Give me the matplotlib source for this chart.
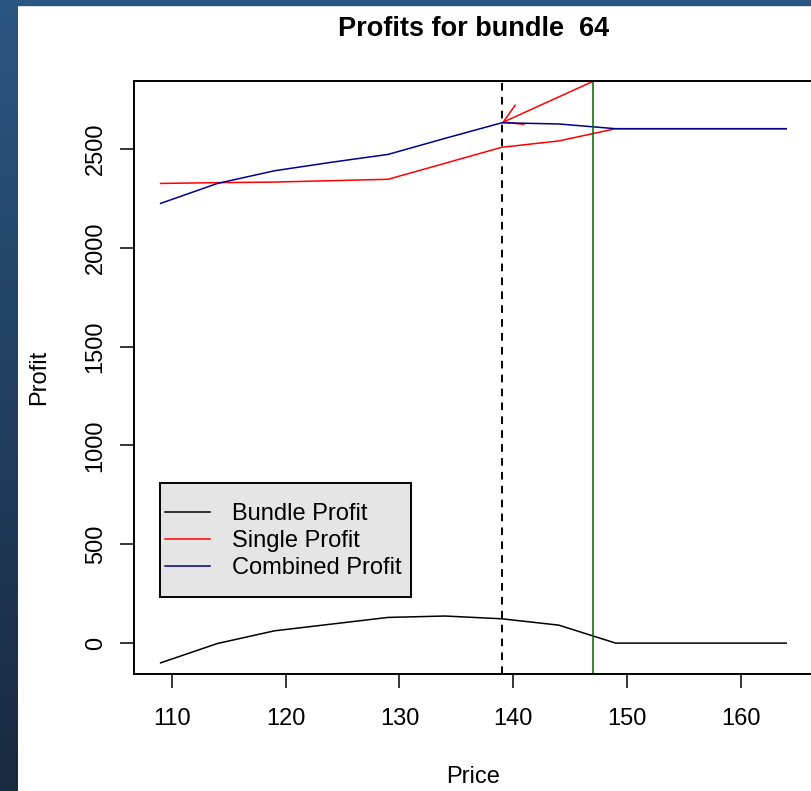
import numpy as np
import matplotlib
matplotlib.use("Agg")
from matplotlib import pyplot as plt
from matplotlib.patches import FancyArrowPatch, Rectangle

plt.rcParams['font.family'] = ['Liberation Sans', 'DejaVu Sans']
plt.rcParams['lines.scale_dashes'] = False

price = [109, 114, 119, 124, 129, 134, 139, 144, 149, 154, 159, 164]
bundle_profit = [-100, -2, 62, 96, 130, 137, 123, 91, 0, 0, 0, 0]
single_profit = [2326, 2330, 2333, 2340, 2347, 2428, 2509, 2541, 2603, 2603, 2603, 2603]
combined_profit = [2225, 2326, 2390, 2433, 2473, 2554, 2633, 2627, 2603, 2603, 2603, 2603]

best_price = 139
cut_price = 147
arrow_from = (147.3, 2850)
arrow_to = (139, 2633)

fig = plt.figure(figsize=(8.12, 7.91), dpi=100)

# slide background strips (left gradient + top band)
bg = fig.add_axes([0, 0, 1, 1], zorder=-10)
bg.set_axis_off()
grad = np.linspace(0, 1, 256).reshape(-1, 1)
top_c = np.array([0x2b, 0x56, 0x82]) / 255
bot_c = np.array([0x19, 0x29, 0x3e]) / 255
img = top_c[None, None, :] * (1 - grad[:, :, None]) + bot_c[None, None, :] * grad[:, :, None]
bg.imshow(img, extent=[0, 18 / 812, 0, 1], aspect='auto', transform=bg.transAxes)
bg.add_patch(Rectangle((0, 1 - 5 / 791), 1, 5 / 791, color='#2b5682', transform=bg.transAxes))
bg.set_xlim(0, 1)
bg.set_ylim(0, 1)

ax = fig.add_axes([0.1647, 0.1485, 0.8366, 0.7495])
ax.plot(price, bundle_profit, color='black', lw=1.1)
ax.plot(price, single_profit, color='red', lw=1.1)
ax.plot(price, combined_profit, color='#00008B', lw=1.1)
ax.axvline(best_price, color='black', lw=1.4, dashes=(5.5, 4.5))
ax.axvline(cut_price, color='darkgreen', lw=1.1)

arr = FancyArrowPatch(arrow_from, arrow_to, arrowstyle='->,head_length=13,head_width=7.6',
                      mutation_scale=1, color='red', lw=1.1, shrinkA=0, shrinkB=0)
ax.add_patch(arr)

ax.set_xlim(106.64, 166.36)
ax.set_ylim(-154, 2846)
ax.set_xticks([110, 120, 130, 140, 150, 160])
ax.set_yticks([0, 500, 1000, 1500, 2000, 2500])
for sp in ax.spines.values():
    sp.set_linewidth(1.4)
ax.tick_params(axis='both', length=10, width=1.1, labelsize=17)
ax.tick_params(axis='x', pad=15)
ax.tick_params(axis='y', pad=9.5)
plt.setp(ax.get_yticklabels(), rotation=90, va='center')

ax.set_title('Profits for bundle  64', fontsize=19.5, fontweight='bold', pad=32)
ax.set_xlabel('Price', fontsize=17, labelpad=26)
ax.set_ylabel('Profit', fontsize=17, labelpad=25)

# legend box drawn separately so the padding can be uneven
ax.add_patch(Rectangle((0.0387, 0.129), 0.3695, 0.1924, transform=ax.transAxes,
                       facecolor='#e5e5e5', edgecolor='black', lw=1.4, zorder=4))
leg = ax.legend(['Bundle Profit', 'Single Profit', 'Combined Profit'],
                loc='upper left', bbox_to_anchor=(0.0461, 0.2876), borderaxespad=0,
                fontsize=17, frameon=False, handlelength=1.9, handletextpad=0.92,
                labelspacing=0.21, borderpad=0)
leg.set_zorder(5)

fig.savefig('out.png', dpi=100)
